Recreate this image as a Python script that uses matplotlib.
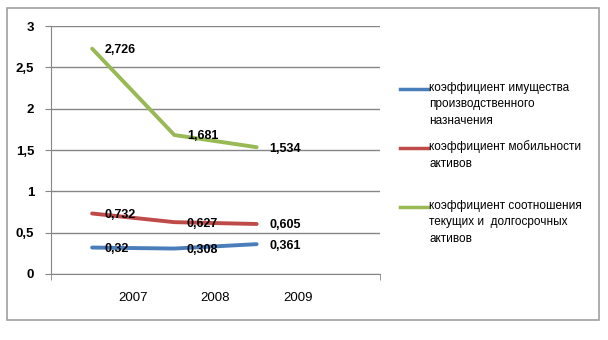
import matplotlib
matplotlib.use('Agg')
import matplotlib.pyplot as plt
from matplotlib.lines import Line2D
from matplotlib.patches import Rectangle

plt.rcParams['font.family'] = ['Liberation Sans', 'DejaVu Sans']

years = ['2007', '2008', '2009']
x_pos = [0, 1, 2]
series_names = [
    'коэффициент имущества\nпроизводственного\nназначения',
    'коэффициент мобильности\nактивов',
    'коэффициент соотношения\nтекущих и  долгосрочных\nактивов',
]
k_property = [0.32, 0.308, 0.361]
k_mobility = [0.732, 0.627, 0.605]
k_ratio = [2.726, 1.681, 1.534]
labels_property = ['0,32', '0,308', '0,361']
labels_mobility = ['0,732', '0,627', '0,605']
labels_ratio = ['2,726', '1,681', '1,534']
colors = ['#4A7EBB', '#BE4B48', '#98B954']

fig = plt.figure(figsize=(6.08, 3.40), dpi=100)
ax = fig.add_axes([51 / 608, 1 - 274 / 340, 329 / 608, 248 / 340])

# outer frame
fig.add_artist(Rectangle((7 / 608, 1 - 320 / 340), 592 / 608, 312 / 340,
                         transform=fig.transFigure, fill=False,
                         edgecolor='#A0A0A0', linewidth=1.2))

all_vals = [k_property, k_mobility, k_ratio]
all_labels = [labels_property, labels_mobility, labels_ratio]
for vals, labs, c in zip(all_vals, all_labels, colors):
    ax.plot(x_pos, vals, color=c, linewidth=2.8, solid_capstyle='round', zorder=3)
    for xi, v, t in zip(x_pos, vals, labs):
        ax.annotate(t, (xi, v), xytext=(9, -1), textcoords='offset points',
                    ha='left', va='center', fontsize=9, fontweight='bold',
                    color='black', zorder=4)

ax.set_xlim(-0.5, 3.5)
ax.set_ylim(0, 3)
ax.set_yticks([0, 0.5, 1, 1.5, 2, 2.5, 3])
ax.set_yticklabels(['0', '0,5', '1', '1,5', '2', '2,5', '3'])
ax.set_xticks([0.5, 1.5, 2.5])
ax.set_xticklabels(years)
ax.set_xticks([-0.5, 0.5, 1.5, 2.5, 3.5], minor=True)
ax.tick_params(axis='x', which='major', length=0, pad=13, labelsize=9.5)
ax.tick_params(axis='x', which='minor', length=4, color='#868686')
ax.tick_params(axis='y', length=4, color='#868686', pad=8, labelsize=9.5)
for t in ax.get_yticklabels():
    t.set_fontweight('bold')
ax.grid(axis='y', color='#868686', linewidth=1)
ax.set_axisbelow(True)
for s in ['top', 'right']:
    ax.spines[s].set_visible(False)
for s in ['left', 'bottom']:
    ax.spines[s].set_color('#868686')

# legend
leg_y = [89, 148, 207]
for name, c, y in zip(series_names, colors, leg_y):
    fig.add_artist(Line2D([400 / 608, 428 / 608], [1 - y / 340] * 2,
                          transform=fig.transFigure, color=c, linewidth=2.5))
    fig.text(429 / 608, 1 - (y - 7.5) / 340, name, ha='left', va='top',
             fontsize=8.5, linespacing=1.55)

fig.savefig('out.png', dpi=100)
